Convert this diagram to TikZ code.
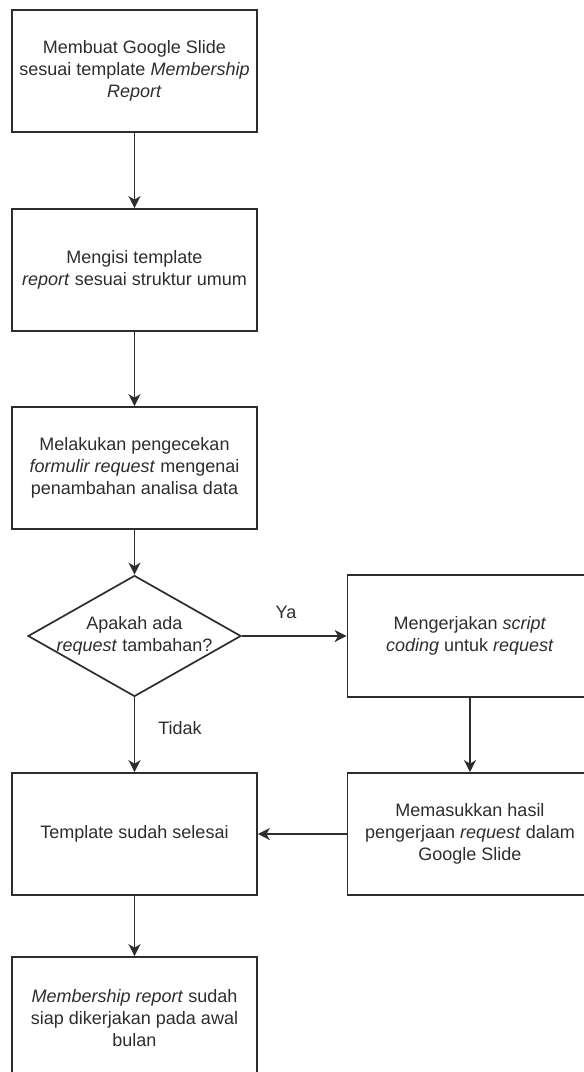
\documentclass[tikz,border=0pt]{standalone}
\usepackage{fontspec}
\setmainfont{Liberation Sans}
\usetikzlibrary{arrows.meta,shapes.geometric}
\definecolor{ink}{RGB}{45,45,45}
\newcommand{\thickness}{1.7pt}
\newcommand{\boxw}{245pt}
\newcommand{\boxh}{122pt}
\tikzset{
    boxtext/.style = {align=center, text=ink, font=\fontsize{18}{22}\selectfont},
    stepbox/.style = {draw=ink, line width=\thickness, minimum width=\boxw, minimum height=\boxh, inner sep=0pt, boxtext},
    decision/.style = {diamond, draw=ink, line width=\thickness, minimum width=213pt, minimum height=121pt, inner sep=0pt},
    arrow/.style = {draw=ink, line width=\thickness, -{Stealth[length=12pt,width=12pt,inset=3.5pt]}}
}

\begin{document}
\begin{tikzpicture}[x=1pt, y=-1pt]
    \useasboundingbox (0,0) rectangle (584,1072);
    \clip (0,0) rectangle (584,1072);

    % left column
    \node[stepbox] (s1) at (134.5,71) {Membuat Google Slide\\sesuai template \textit{Membership}\\\textit{Report}};
    \node[stepbox] (s2) at (134.5,270) {Mengisi template\\\textit{report} sesuai struktur umum};
    \node[stepbox] (s3) at (134.5,468) {Melakukan pengecekan\\\textit{formulir request} mengenai\\penambahan analisa data};
    \node[decision, label={[boxtext]center:Apakah ada\\\textit{request} tambahan?}] (q) at (134.5,636) {};
    \node[stepbox] (s4) at (134.5,834) {Template sudah selesai};
    \node[stepbox] (s5) at (134.5,1018) {\textit{Membership report} sudah\\siap dikerjakan pada awal\\bulan};

    % right column
    \node[stepbox] (r1) at (470,636) {Mengerjakan \textit{script}\\\textit{coding} untuk \textit{request}};
    \node[stepbox] (r2) at (470,834) {Memasukkan hasil\\pengerjaan \textit{request} dalam\\Google Slide};

    \foreach\a/\b in {s1/s2, s2/s3, s3/q, q/r1, q/s4, r1/r2, r2/s4, s4/s5} {
        \draw[arrow] (\a) -- (\b);
    }

    \node[boxtext] (ya) at (286,612) {Ya};
    \node[boxtext] (tidak) at (180,728) {Tidak};
\end{tikzpicture}
\end{document}
